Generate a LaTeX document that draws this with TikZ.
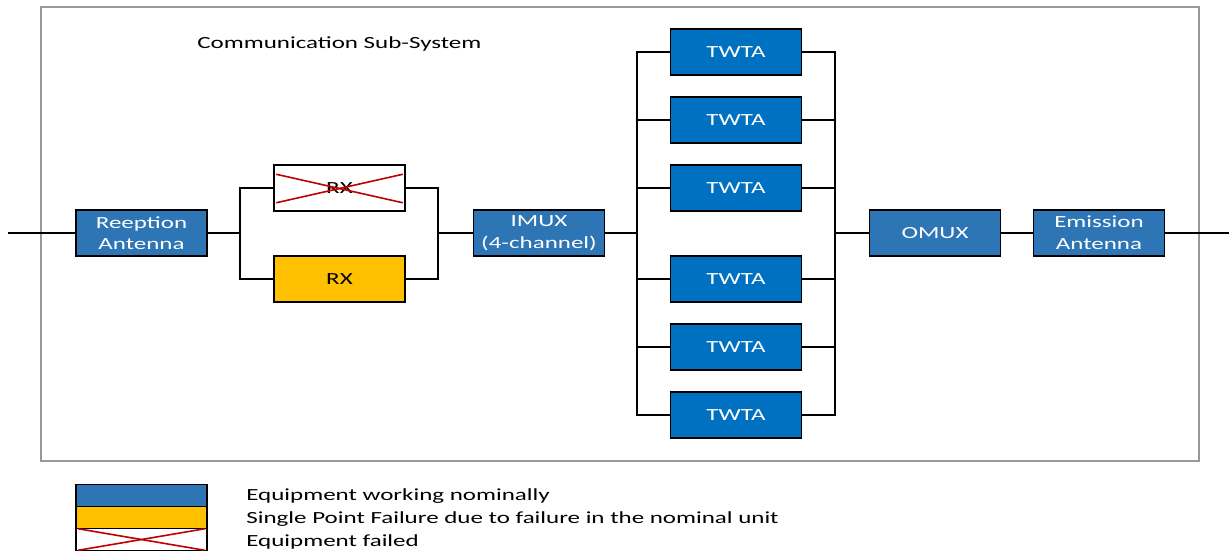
\documentclass[tikz,border=0pt]{standalone}
\usepackage{fontspec}
\setmainfont[FakeStretch=1.47]{Carlito}
\definecolor{unitblue}{HTML}{2E75B6}
\definecolor{ampblue}{HTML}{0070C0}
\definecolor{spfyellow}{HTML}{FFC000}
\definecolor{failred}{HTML}{C00000}
\begin{document}
\begin{tikzpicture}[x=0.5pt,y=-0.5pt,
  every node/.style={font=\fontsize{8.5}{10.8}\selectfont},
  unit/.style={draw=black,line width=0.75pt,fill=unitblue,text=white,
    minimum width=65.5pt,minimum height=23pt,inner sep=0pt,align=center},
  amp/.style={unit,fill=ampblue},
  spf/.style={unit,fill=spfyellow,text=black},
  failed/.style={unit,fill=white,text=black},
  legbox/.style={draw=black,line width=0.75pt,minimum width=65.5pt,
    minimum height=11pt,inner sep=0pt},
  label/.style={anchor=west,inner sep=0pt},
  wire/.style={line width=0.6pt,black},
  cross/.style={failred,line width=0.8pt}]
\useasboundingbox (0,0) rectangle (1229,554);

% subsystem frame
\draw[gray!80,line width=0.7pt] (41,7) rectangle (1199,461);
\node[label] (title) at (197,43.5) {Communication Sub-System};

% chain units
\node[unit] (ant) at (141.5,233) {Reeption\\Antenna};
\node[failed] (rxa) at (339.5,188) {RX};
\node[spf] (rxb) at (339.5,279) {RX};
\node[unit] (imux) at (539,233) {IMUX\\(4-channel)};
\node[amp] (t1) at (736,52) {TWTA};
\node[amp] (t2) at (736,120) {TWTA};
\node[amp] (t3) at (736,188) {TWTA};
\node[amp] (t4) at (736,279) {TWTA};
\node[amp] (t5) at (736,347) {TWTA};
\node[amp] (t6) at (736,415) {TWTA};
\node[unit] (omux) at (935,233) {OMUX};
\node[unit] (emi) at (1099,233) {Emission\\Antenna};

% red cross on the failed receiver
\draw[cross] ([shift={(3,10)}]rxa.north west) -- ([shift={(-3,-9)}]rxa.south east);
\draw[cross] ([shift={(3,-9)}]rxa.south west) -- ([shift={(-3,10)}]rxa.north east);

% bus points
\coordinate (in) at (8,233);
\coordinate (out) at (1229,233);
\coordinate (rxl) at (240,233);
\coordinate (rxr) at (438,233);
\coordinate (tl) at (637,233);
\coordinate (tr) at (835,233);

% connectors
\draw[wire] (in) -- (ant.west);
\draw[wire] (ant.east) -- (rxl);
\draw[wire] (rxa.west) -| (rxl) |- (rxb.west);
\draw[wire] (rxa.east) -| (rxr) |- (rxb.east);
\draw[wire] (rxr) -- (imux.west);
\draw[wire] (imux.east) -- (tl);
\draw[wire] (t1.west) -| (tl) |- (t6.west);
\draw[wire] (t1.east) -| (tr) |- (t6.east);
\foreach \t in {t2,t3,t4,t5}{
  \draw[wire] (\t.west) -- (\t.west -| tl);
  \draw[wire] (\t.east) -- (\t.east -| tr);
}
\draw[wire] (tr) -- (omux.west);
\draw[wire] (omux.east) -- (emi.west);
\draw[wire] (emi.east) -- (out);

% legend
\node[legbox,fill=unitblue] (leg1) at (141.5,495.5) {};
\node[legbox,fill=spfyellow] (leg2) at (141.5,517.5) {};
\node[legbox,fill=white] (leg3) at (141.5,539.5) {};
\draw[cross] ([shift={(3,1)}]leg3.north west) -- ([shift={(-3,-1)}]leg3.south east);
\draw[cross] ([shift={(3,-1)}]leg3.south west) -- ([shift={(-3,1)}]leg3.north east);
\node[label] (lt1) at (246,496.5) {Equipment working nominally};
\node[label] (lt2) at (246,519.5) {Single Point Failure due to failure in the nominal unit};
\node[label] (lt3) at (246,541.5) {Equipment failed};
\end{tikzpicture}
\end{document}
